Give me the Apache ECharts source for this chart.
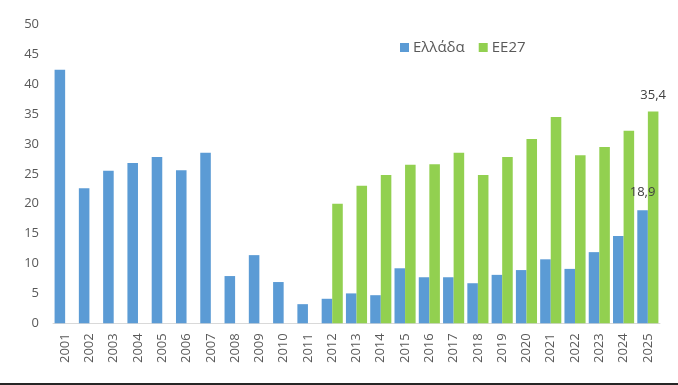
<!DOCTYPE html>
<html>
<head>
<meta charset="utf-8">
<script src="https://cdn.jsdelivr.net/npm/echarts@6/dist/echarts.min.js"></script>
<style>html,body{margin:0;padding:0;background:#fff}#c{width:678px;height:385px}</style>
</head>
<body>
<div id="c"></div>
<script>
const years = ['2001','2002','2003','2004','2005','2006','2007','2008','2009','2010','2011','2012','2013','2014','2015','2016','2017','2018','2019','2020','2021','2022','2023','2024','2025'];
const greece = [42.4,22.6,25.5,26.8,27.8,25.6,28.5,7.9,11.4,6.9,3.2,4.1,5.0,4.7,9.2,7.7,7.7,6.7,8.1,8.9,10.7,9.1,11.9,14.6,18.9];
const eu27 = [null,null,null,null,null,null,null,null,null,null,null,20.0,23.0,24.8,26.5,26.6,28.5,24.8,27.8,30.8,34.5,28.1,29.5,32.2,35.4];
const yTicks = [0,5,10,15,20,25,30,35,40,45,50];
const seriesNames = ['Ελλάδα','ΕΕ27'];

const font = '"Open Sans", "DejaVu Sans", sans-serif';
const lastIdx = years.length - 1;
function lbl(p){ return p.dataIndex === lastIdx ? String(p.value).replace('.', ',') : ''; }

const chart = echarts.init(document.getElementById('c'), null, {renderer:'canvas'});
chart.setOption({
  animation: false,
  backgroundColor: '#ffffff',
  grid: {left: 53, right: 18, top: 24.3, bottom: 61.7, containLabel: false},
  legend: {
    data: seriesNames,
    left: 395, top: 35, padding: 5,
    itemWidth: 9, itemHeight: 9, itemGap: 14,
    icon: 'rect',
    textStyle: {fontFamily: font, fontSize: 15, color: '#595959', padding: [0,0,0,-1]}
  },
  xAxis: {
    type: 'category',
    data: years,
    axisLine: {show: true, lineStyle: {color: '#d9d9d9', width: 1}},
    axisTick: {show: false},
    axisLabel: {rotate: 90, interval: 0, fontFamily: font, fontSize: 13, color: '#595959', margin: 10}
  },
  yAxis: {
    type: 'value',
    min: yTicks[0], max: yTicks[yTicks.length-1], interval: 5,
    axisLine: {show: false},
    axisTick: {show: false},
    splitLine: {show: false},
    axisLabel: {fontFamily: font, fontSize: 13, color: '#595959', margin: 14}
  },
  series: [
    {
      name: seriesNames[0], type: 'bar', data: greece,
      itemStyle: {color: '#5B9BD5'},
      barGap: '0%', barCategoryGap: '13%',
      label: {show: true, position: 'top', distance: 11, formatter: lbl, fontFamily: font, fontSize: 13, color: '#404040'}
    },
    {
      name: seriesNames[1], type: 'bar', data: eu27,
      itemStyle: {color: '#92D050'},
      barGap: '0%', barCategoryGap: '13%',
      label: {show: true, position: 'top', distance: 10, formatter: lbl, fontFamily: font, fontSize: 13, color: '#404040'}
    }
  ],
  graphic: [
    {type: 'rect', left: 0, top: 383, shape: {width: 678, height: 2}, style: {fill: '#262626'}, silent: true}
  ]
});
</script>
</body>
</html>
